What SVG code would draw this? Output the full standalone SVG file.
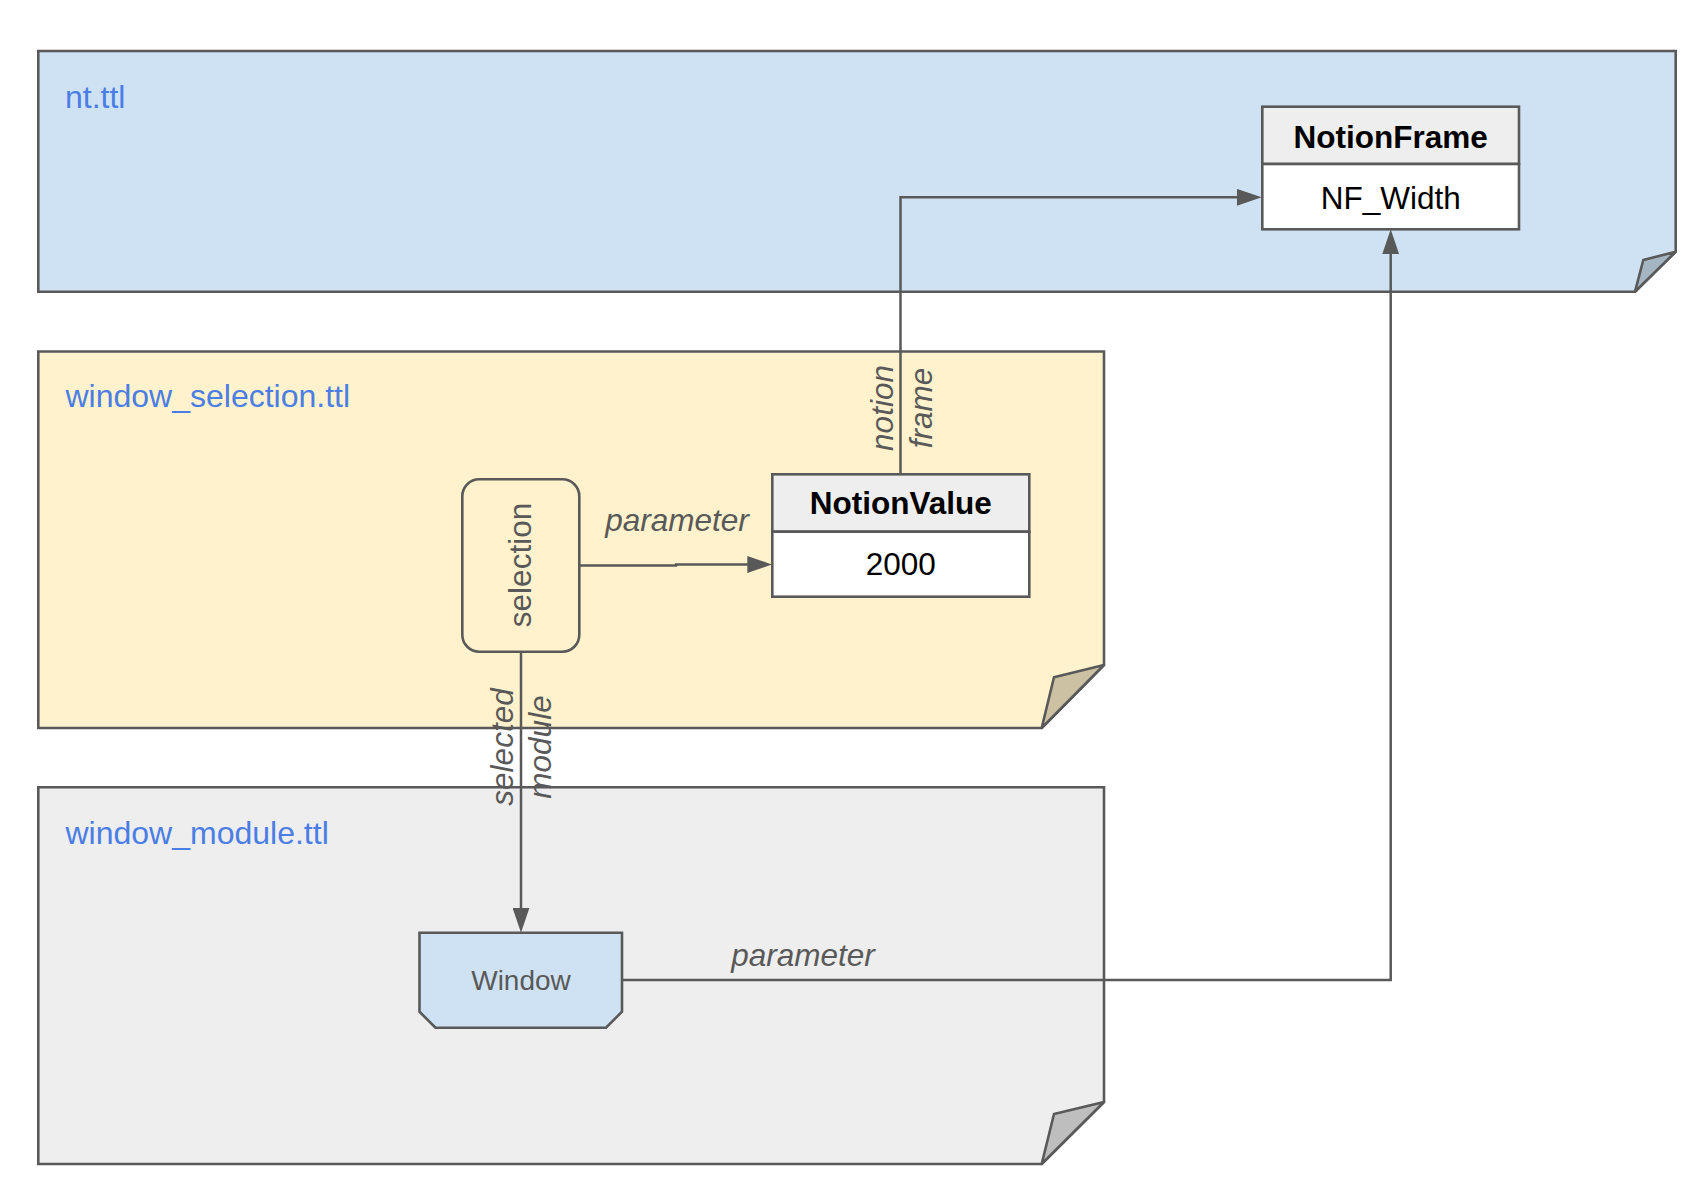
<svg xmlns="http://www.w3.org/2000/svg" width="1705" height="1203" viewBox="0 0 1705 1203">
  <style>
    .frame { stroke: #595959; stroke-width: 2.6; stroke-linejoin: miter; }
    .fold { stroke: #595959; stroke-width: 2.6; stroke-linejoin: round; }
    .title { font-family: "Liberation Sans", Arial, sans-serif; font-size: 32px; fill: #4a7ee6; }
    .box { stroke: #595959; stroke-width: 2.6; }
    .head { font-family: "Liberation Sans", Arial, sans-serif; font-size: 31.5px; font-weight: bold; fill: #000; text-anchor: middle; }
    .body { font-family: "Liberation Sans", Arial, sans-serif; font-size: 31.5px; fill: #000; text-anchor: middle; }
    .plain { font-family: "Liberation Sans", Arial, sans-serif; fill: #595959; text-anchor: middle; }
    .edge { fill: none; stroke: #595959; stroke-width: 2.5; }
    .elabel { font-family: "Liberation Sans", Arial, sans-serif; font-size: 31.5px; font-style: italic; fill: #595959; text-anchor: middle; }
  </style>
  <defs>
    <marker id="arrow" markerUnits="userSpaceOnUse" markerWidth="25" markerHeight="17" refX="13" refY="8.5" orient="auto">
      <path d="M0,0 L25,8.5 L0,17 Z" fill="#595959"/>
    </marker>
  </defs>
  <rect width="1705" height="1203" fill="#ffffff"/>

  <!-- file containers (folded-corner notes) -->
  <g id="nt-ttl">
    <path class="frame" fill="#cfe2f3" d="M38.3 51 H1675.7 V251.7 L1635 291.7 H38.3 Z"/>
    <polygon class="fold" fill="#a6b5c2" points="1675.7,251.7 1643.3,260 1635,291.7"/>
    <text class="title" x="65" y="108">nt.ttl</text>
  </g>
  <g id="window-selection-ttl">
    <path class="frame" fill="#fff2cc" d="M38.3 351.5 H1104 V665 L1041.7 728 H38.3 Z"/>
    <polygon class="fold" fill="#ccc2a3" points="1104,665 1054,677.3 1041.7,728"/>
    <text class="title" x="65.5" y="406.5">window_selection.ttl</text>
  </g>
  <g id="window-module-ttl">
    <path class="frame" fill="#eeeeee" d="M38.3 787.3 H1104 V1102 L1041.7 1164 H38.3 Z"/>
    <polygon class="fold" fill="#bebebe" points="1104,1102 1054,1114 1041.7,1164"/>
    <text class="title" x="65.5" y="844">window_module.ttl</text>
  </g>

  <!-- connectors -->
  <g id="connectors">
    <path class="edge" marker-end="url(#arrow)" d="M900.5 474.3 V197.3 H1249.7"/>
    <path class="edge" marker-end="url(#arrow)" d="M579.3 565.5 H676 V564.5 H760.3"/>
    <path class="edge" marker-end="url(#arrow)" d="M521 651.7 V920.7"/>
    <path class="edge" marker-end="url(#arrow)" d="M622 980 H1390.7 V241.3"/>
    <text class="elabel" transform="translate(893,408) rotate(-90)">notion</text>
    <text class="elabel" transform="translate(932,408) rotate(-90)">frame</text>
    <text class="elabel" x="677" y="530.5">parameter</text>
    <text class="elabel" transform="translate(513,747) rotate(-90)">selected</text>
    <text class="elabel" transform="translate(551,747) rotate(-90)">module</text>
    <text class="elabel" x="803" y="965.5">parameter</text>
  </g>

  <!-- nodes -->
  <g id="NotionFrame">
    <rect class="box" x="1262.3" y="106.7" width="256.7" height="57.3" fill="#eeeeee"/>
    <rect class="box" x="1262.3" y="164" width="256.7" height="65.3" fill="#ffffff"/>
    <text class="head" x="1390.7" y="147.5">NotionFrame</text>
    <text class="body" x="1390.7" y="209">NF_Width</text>
  </g>
  <g id="NotionValue">
    <rect class="box" x="772.3" y="474.3" width="257" height="57.4" fill="#eeeeee"/>
    <rect class="box" x="772.3" y="531.7" width="257" height="65" fill="#ffffff"/>
    <text class="head" x="900.8" y="514">NotionValue</text>
    <text class="body" x="900.8" y="575">2000</text>
  </g>
  <g id="selection">
    <rect class="box" x="462.3" y="479.3" width="117" height="172.4" rx="17" ry="17" fill="#fff2cc"/>
    <text class="plain" font-size="31.5" transform="translate(530.7,565) rotate(-90)">selection</text>
  </g>
  <g id="Window">
    <path class="box" fill="#cfe2f3" d="M419.5 932.7 H622 V1011.7 L606 1027.7 H435.5 L419.5 1011.7 Z"/>
    <text class="plain" font-size="28" x="521" y="990">Window</text>
  </g>
</svg>
